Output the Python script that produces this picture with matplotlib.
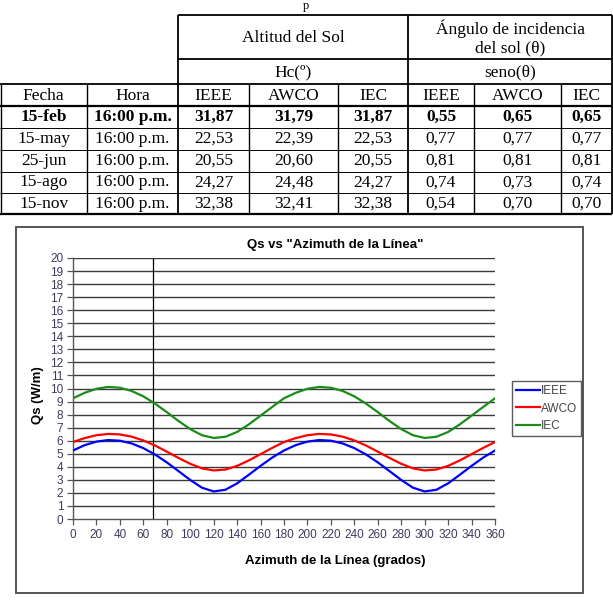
import matplotlib
matplotlib.use("Agg")
import matplotlib.pyplot as plt
from matplotlib.patches import Rectangle

# --- table data ---
fechas = ["15-feb", "15-may", "25-jun", "15-ago", "15-nov"]
horas = ["16:00 p.m."] * 5
hc_ieee = ["31,87", "22,53", "20,55", "24,27", "32,38"]
hc_awco = ["31,79", "22,39", "20,60", "24,48", "32,41"]
hc_iec = ["31,87", "22,53", "20,55", "24,27", "32,38"]
sen_ieee = ["0,55", "0,77", "0,81", "0,74", "0,54"]
sen_awco = ["0,65", "0,77", "0,81", "0,73", "0,70"]
sen_iec = ["0,65", "0,77", "0,81", "0,74", "0,70"]
col_heads = ["Fecha", "Hora", "IEEE", "AWCO", "IEC", "IEEE", "AWCO", "IEC"]

# --- chart data (every 10 degrees) ---
azimuth = list(range(0, 361, 10))
qs_ieee = [5.25, 5.66, 5.93, 6.05, 6.00, 5.79, 5.43, 4.94, 4.34, 3.67, 2.99, 2.40, 2.11,
           2.24, 2.73, 3.39, 4.07, 4.71, 5.25, 5.66, 5.93, 6.05, 6.00, 5.79, 5.43, 4.94,
           4.34, 3.67, 2.99, 2.40, 2.11, 2.24, 2.73, 3.39, 4.07, 4.71, 5.25]
qs_awco = [5.90, 6.20, 6.42, 6.52, 6.48, 6.31, 6.02, 5.63, 5.16, 4.68, 4.23, 3.88, 3.72,
           3.79, 4.07, 4.49, 4.97, 5.45, 5.90, 6.20, 6.42, 6.52, 6.48, 6.31, 6.02, 5.63,
           5.16, 4.68, 4.23, 3.88, 3.72, 3.79, 4.07, 4.49, 4.97, 5.45, 5.90]
qs_iec = [9.25, 9.67, 9.98, 10.12, 10.06, 9.81, 9.40, 8.84, 8.19, 7.51, 6.89, 6.42, 6.21,
          6.30, 6.67, 7.25, 7.92, 8.59, 9.25, 9.67, 9.98, 10.12, 10.06, 9.81, 9.40, 8.84,
          8.19, 7.51, 6.89, 6.42, 6.21, 6.30, 6.67, 7.25, 7.92, 8.59, 9.25]
ref_azimuth = 68

W, H = 613, 605
fig = plt.figure(figsize=(W / 100, H / 100), dpi=100)
fig.patch.set_facecolor("white")

# overlay in pixel coords for the table and the chart frame
bg = fig.add_axes([0, 0, 1, 1])
bg.set_xlim(0, W)
bg.set_ylim(H, 0)
bg.axis("off")

serif = "Liberation Serif"
fs = 12.5

def hline(y, x0, x1, lw=1.0):
    bg.plot([x0, x1], [y, y], color="black", lw=lw, solid_capstyle="butt")

def vline(x, y0, y1, lw=1.0):
    bg.plot([x, x], [y0, y1], color="black", lw=lw, solid_capstyle="butt")

cols = [0.5, 87, 178, 249, 338, 408, 474, 561, 612]
rows = [84, 106, 128, 150, 172, 193, 214]

hline(15, 178, 612, 1.3)
hline(59, 178, 612, 1.3)
hline(84, 0, 612, 1.3)
hline(106, 0, 612, 1.6)
for y in rows[2:-1]:
    hline(y, 0, 612, 0.7)
hline(214, 0, 612, 1.6)
vline(178, 15, 214, 1.3)
vline(408, 15, 214, 1.3)
vline(612, 15, 214, 1.3)
for x in [0.5, 87, 249, 338, 474, 561]:
    vline(x, 84, 214, 1.0)

bg.text(306, 0.5, "p", ha="center", va="top", family=serif, fontsize=9)
bg.text(293, 38, "Altitud del Sol", ha="center", va="center", family=serif, fontsize=fs)
bg.text(510, 38, "Ángulo de incidencia\ndel sol (θ)", ha="center", va="center",
        family=serif, fontsize=fs, linespacing=1.25)
bg.text(293, 72, "Hc(º)", ha="center", va="center", family=serif, fontsize=fs)
bg.text(510, 72, "seno(θ)", ha="center", va="center", family=serif, fontsize=fs)

centers = [(cols[i] + cols[i + 1]) / 2 for i in range(8)]
for c, t in zip(centers, col_heads):
    bg.text(c, 95.5, t, ha="center", va="center", family=serif, fontsize=fs)

table_cols = [fechas, horas, hc_ieee, hc_awco, hc_iec, sen_ieee, sen_awco, sen_iec]
for r in range(5):
    yc = (rows[r + 1] + rows[r + 2]) / 2
    for c, col in zip(centers, table_cols):
        bg.text(c, yc, col[r], ha="center", va="center", family=serif, fontsize=fs,
                fontweight="bold" if r == 0 else "normal")

# chart frame
bg.add_patch(Rectangle((16, 227), 567, 366, fill=False, edgecolor="#555555", lw=1.4))

# --- chart ---
sans = "Liberation Sans"
tick_col = "#3f3a5c"
ax = fig.add_axes([73 / W, 1 - 519 / H, (495 - 73) / W, (519 - 258) / H])
ax.set_facecolor("white")
for y in range(1, 21):
    ax.axhline(y, color="#3a3a3a", lw=1.0, zorder=1)
ax.axvline(ref_azimuth, color="black", lw=0.9, zorder=1)
ax.plot(azimuth, qs_ieee, color="#0000ff", lw=1.6, label="IEEE", zorder=3)
ax.plot(azimuth, qs_awco, color="#ff0000", lw=1.6, label="AWCO", zorder=3)
ax.plot(azimuth, qs_iec, color="#1a8c1a", lw=1.6, label="IEC", zorder=3)
ax.set_xlim(0, 360)
ax.set_ylim(0, 20)
ax.set_xticks(range(0, 361, 20))
ax.set_yticks(range(0, 21))
for s in ["top", "right"]:
    ax.spines[s].set_visible(False)
for s in ["left", "bottom"]:
    ax.spines[s].set_color("#555555")
    ax.spines[s].set_linewidth(1.0)
ax.tick_params(length=4, width=0.9, color="#555555", labelsize=8.5, labelcolor=tick_col,
               pad=3)
for lab in ax.get_xticklabels() + ax.get_yticklabels():
    lab.set_family(sans)

fig.text(335 / W, 1 - 245 / H, 'Qs vs "Azimuth de la Línea"', ha="center", va="center",
         family=sans, fontsize=9.5, fontweight="bold")
fig.text(335 / W, 1 - 561 / H, "Azimuth de la Línea (grados)", ha="center", va="center",
         family=sans, fontsize=9.5, fontweight="bold")
fig.text(38 / W, 1 - 395 / H, "Qs (W/m)", ha="center", va="center", rotation=90,
         family=sans, fontsize=9.5, fontweight="bold")

leg = ax.legend(loc="center left", bbox_to_anchor=(512 / W, 1 - 408.5 / H),
                bbox_transform=fig.transFigure, frameon=True, fancybox=False,
                prop={"family": sans, "size": 8.5}, handlelength=2.0, handletextpad=0.1,
                borderpad=0.35, labelspacing=0.45, borderaxespad=0)
leg.get_frame().set_edgecolor("#333333")
leg.get_frame().set_linewidth(1.0)
for t in leg.get_texts():
    t.set_color("#444444")

fig.savefig("out.png", dpi=100)
